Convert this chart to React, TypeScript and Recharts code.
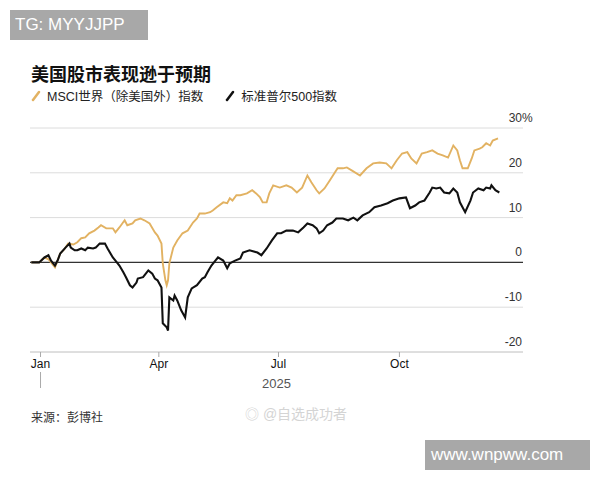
import { LineChart, Line, XAxis, YAxis, CartesianGrid, ReferenceLine } from 'recharts'

// days counted from 1 Jan 2025, values in % change
const goldDays = [-7, -1, 3, 6, 8, 11, 15, 18, 21, 25, 28, 31, 34, 37, 41, 44, 46, 50, 55, 57, 60, 64, 66, 70, 72, 76, 79, 83, 87, 89, 92, 93, 95, 96, 97, 98, 101, 104, 108, 112, 116, 119, 121, 125, 129, 131, 134, 139, 142, 144, 146, 149, 152, 157, 161, 164, 167, 169, 172, 174, 177, 182, 187, 191, 195, 199, 203, 206, 210, 212, 216, 220, 224, 226, 230, 233, 237, 243, 248, 253, 258, 263, 267, 271, 275, 279, 282, 286, 290, 294, 298, 302, 306, 310, 314, 317, 319, 321, 325, 328, 330, 334, 336, 339, 342, 344, 348]
const goldVals = [0, 0, 1.1, 0.7, 0, -1.1, 2.0, 2.9, 4.2, 4.0, 4.5, 5.4, 5.6, 6.5, 7.1, 7.8, 8.3, 7.6, 7.6, 6.7, 7.8, 9.4, 8.3, 8.7, 9.4, 9.8, 9.4, 8.7, 6.7, 6.0, 4.2, -0.2, -4.0, -5.1, -4.0, -0.2, 3.3, 4.9, 6.5, 7.1, 8.9, 9.8, 10.9, 10.9, 11.2, 11.6, 12.3, 13.4, 13.2, 14.3, 13.8, 15.0, 15.0, 15.4, 16.1, 15.4, 14.5, 13.4, 13.4, 15.4, 17.2, 16.7, 17.2, 16.7, 15.6, 16.7, 19.4, 17.9, 16.1, 15.4, 16.5, 18.3, 20.1, 21.0, 21.0, 21.2, 20.5, 19.4, 21.0, 22.1, 22.3, 22.1, 21.0, 22.8, 24.3, 24.6, 23.2, 22.1, 24.3, 24.6, 25.0, 24.3, 23.9, 23.4, 26.1, 25.0, 22.8, 21.0, 21.0, 23.2, 25.0, 25.4, 25.7, 26.6, 26.1, 27.2, 27.7]

const spDays = [-7, -1, 3, 6, 8, 11, 13, 15, 19, 22, 23, 26, 28, 31, 34, 36, 40, 42, 45, 49, 51, 55, 57, 60, 63, 65, 68, 70, 73, 74, 78, 82, 85, 87, 89, 92, 93, 96, 97, 98, 101, 102, 104, 107, 110, 112, 115, 119, 123, 125, 127, 130, 133, 135, 139, 142, 144, 148, 152, 154, 159, 165, 168, 172, 176, 180, 183, 187, 192, 196, 200, 203, 207, 210, 212, 215, 218, 222, 225, 230, 234, 238, 241, 245, 250, 254, 259, 264, 268, 273, 278, 281, 285, 288, 292, 296, 298, 301, 304, 307, 311, 314, 317, 319, 323, 327, 329, 333, 337, 339, 342, 343, 346, 349]
const spVals = [0, 0, 1.1, 1.6, 0.4, -0.7, 0.4, 2.0, 3.3, 4.2, 3.3, 2.7, 2.7, 3.1, 2.7, 3.3, 3.1, 3.3, 4.2, 4.2, 3.1, 1.1, 0.4, -0.7, -2.2, -3.3, -5.1, -5.6, -4.5, -3.6, -3.3, -1.8, -2.5, -3.6, -4.0, -5.6, -13.6, -14.5, -15.2, -7.8, -8.5, -7.4, -8.5, -10.7, -12.3, -7.8, -5.8, -5.1, -3.6, -3.3, -2.2, -0.7, 0.4, 1.1, 0.4, -1.3, -0.2, 0.4, 0.9, 2.2, 2.7, 2.2, 1.6, 3.1, 4.9, 6.5, 6.5, 7.1, 7.1, 6.7, 7.8, 8.7, 8.3, 7.6, 6.5, 7.1, 8.3, 8.9, 9.8, 9.8, 9.4, 10.0, 9.4, 10.5, 11.2, 12.3, 12.7, 13.2, 13.8, 14.3, 14.5, 12.1, 12.7, 13.4, 13.8, 15.6, 16.7, 16.5, 16.7, 15.6, 15.4, 16.5, 15.6, 13.4, 11.2, 13.8, 15.6, 16.5, 16.1, 16.7, 16.5, 17.2, 16.1, 15.6]

const xTicks = [0, 90, 181, 273]
const xLabels = ['Jan', 'Apr', 'Jul', 'Oct']
const yTicks = [-20, -10, 0, 10, 20, 30]

const goldData = goldDays.map((d, i) => ({ day: d, v: goldVals[i] }))
const spData = spDays.map((d, i) => ({ day: d, v: spVals[i] }))

const latin = '"Liberation Sans", Arial, "Noto Sans CJK SC", sans-serif'
const cjk = '"Liberation Sans", "Noto Sans CJK SC", sans-serif'
const GOLD = '#e2b262'
const PLOT_RIGHT = 523

function XTick(props: any) {
    const { x, y, payload } = props
    const idx = xTicks.indexOf(payload.value)
    return (
        <g>
            <text x={x} y={y + 9} textAnchor="middle" fontSize={12} fill="#111" fontFamily={latin}>
                {xLabels[idx]}
            </text>
            {payload.value === 0 ? (
                <line x1={x} x2={x} y1={y + 13} y2={y + 29} stroke="#aaa" strokeWidth={1} />
            ) : null}
        </g>
    )
}

function YTick(props: any) {
    const { y, payload } = props
    const x = PLOT_RIGHT - 1
    return (
        <g>
            <text x={x} y={y - 6} textAnchor="end" fontSize={12} fill="#333" fontFamily={latin}>
                {payload.value}
            </text>
            {payload.value === 30 ? (
                <text x={x} y={y - 6} textAnchor="start" fontSize={12} fill="#333" fontFamily={latin}>
                    %
                </text>
            ) : null}
        </g>
    )
}

function Slash({ color }: { color: string }) {
    return (
        <svg width={10} height={12} style={{ verticalAlign: 'middle', marginRight: 6 }}>
            <line x1={2} y1={10} x2={8} y2={2} stroke={color} strokeWidth={2.5} strokeLinecap="round" />
        </svg>
    )
}

export default function App() {
    return (
        <div style={{ position: 'absolute', left: 0, top: 0, width: 600, height: 480, background: '#fff', overflow: 'hidden' }}>
            <div style={{ position: 'absolute', left: 10, top: 10, width: 138, height: 30, background: '#a8a8a8', color: '#fff', fontFamily: latin, fontSize: 17, lineHeight: '30px', paddingLeft: 5, boxSizing: 'border-box' }}>
                TG: MYYJJPP
            </div>
            <div style={{ position: 'absolute', left: 31, top: 60, fontFamily: cjk, fontSize: 18, fontWeight: 700, color: '#111' }}>
                美国股市表现逊于预期
            </div>
            <div style={{ position: 'absolute', left: 31, top: 86, fontFamily: cjk, fontSize: 12.5, color: '#222', display: 'flex', alignItems: 'center', whiteSpace: 'nowrap' }}>
                <Slash color={GOLD} />
                <span>MSCI世界（除美国外）指数</span>
                <span style={{ width: 22 }} />
                <Slash color="#111" />
                <span>标准普尔500指数</span>
            </div>
            <div style={{ position: 'absolute', left: 0, top: 0 }}>
                <LineChart width={600} height={480} margin={{ top: 128, right: 600 - PLOT_RIGHT - 30, left: 30, bottom: 88 }}>
                    <CartesianGrid vertical={false} stroke="#dcdcdc" strokeWidth={1} />
                    <XAxis
                        dataKey="day"
                        type="number"
                        domain={[-8, 367]}
                        ticks={xTicks}
                        interval={0}
                        height={40}
                        axisLine={{ stroke: '#d0d0d0' }}
                        tickLine={{ stroke: '#aaa' }}
                        tickSize={5}
                        tick={<XTick />}
                        allowDuplicatedCategory={false}
                        label={{ value: '2025', position: 'insideBottom', offset: 4, fill: '#555', fontSize: 13, fontFamily: latin }}
                    />
                    <YAxis
                        orientation="right"
                        width={30}
                        domain={[-20, 30]}
                        ticks={yTicks}
                        interval={0}
                        axisLine={false}
                        tickLine={false}
                        tick={<YTick />}
                    />
                    <ReferenceLine y={0} stroke="#333" strokeWidth={1.2} />
                    <Line data={goldData} dataKey="v" stroke={GOLD} strokeWidth={1.9} dot={false} isAnimationActive={false} />
                    <Line data={spData} dataKey="v" stroke="#111" strokeWidth={2.1} dot={false} isAnimationActive={false} />
                </LineChart>
            </div>
            <div style={{ position: 'absolute', left: 31, top: 408, fontFamily: cjk, fontSize: 12, color: '#333' }}>
                来源：彭博社
            </div>
            <div style={{ position: 'absolute', left: 245, top: 403, fontFamily: cjk, fontSize: 14, color: '#d4d4d4' }}>
                ◎ @自选成功者
            </div>
            <div style={{ position: 'absolute', left: 425, top: 440, width: 165, height: 30, background: '#a8a8a8', color: '#fff', fontFamily: latin, fontSize: 17, lineHeight: '30px', paddingLeft: 6, boxSizing: 'border-box' }}>
                www.wnpww.com
            </div>
        </div>
    )
}
